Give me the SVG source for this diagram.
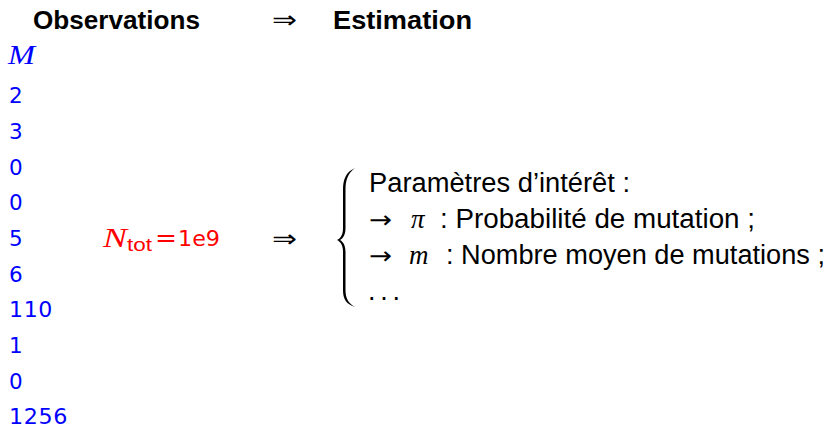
<svg xmlns="http://www.w3.org/2000/svg" width="832" height="428" viewBox="0 0 832 428">
<style>
.t{font-family:"Liberation Sans",Arial,sans-serif;fill:#000;font-size:27px}
.b{font-family:"Liberation Sans",Arial,sans-serif;font-weight:bold;font-size:25px;fill:#000}
.num{font-family:"DejaVu Sans","Liberation Sans",sans-serif;font-size:21.5px;fill:#0000ff;letter-spacing:0.6px}
.mi{font-family:"Liberation Serif","Times New Roman",serif;font-style:italic}
.ar{font-family:"DejaVu Sans",sans-serif;font-size:24px;fill:#000}
</style>
<rect width="832" height="428" fill="#fff"/>
<g id="header">
<text class="b" x="33" y="29" textLength="167" lengthAdjust="spacingAndGlyphs">Observations</text>
<text class="ar" x="272" y="28" textLength="25" lengthAdjust="spacingAndGlyphs">⇒</text>
<text class="b" x="333" y="29" textLength="139" lengthAdjust="spacingAndGlyphs">Estimation</text>
</g>
<g id="observations">
<text class="mi" x="8" y="64" font-size="27" fill="#0000ff" textLength="27" lengthAdjust="spacingAndGlyphs">M</text>
<text class="num" x="9" y="103">2</text>
<text class="num" x="9" y="139">3</text>
<text class="num" x="9" y="175">0</text>
<text class="num" x="9" y="210">0</text>
<text class="num" x="9" y="246">5</text>
<text class="num" x="9" y="282">6</text>
<text class="num" x="9" y="317" textLength="44" lengthAdjust="spacingAndGlyphs">110</text>
<text class="num" x="9" y="353">1</text>
<text class="num" x="9" y="389">0</text>
<text class="num" x="9" y="424" textLength="59" lengthAdjust="spacingAndGlyphs">1256</text>
</g>
<g id="ntot">
<text x="103" y="247" font-family="Liberation Serif,serif" font-style="italic" font-size="27" fill="#ff0000" textLength="24" lengthAdjust="spacingAndGlyphs">N</text>
<text x="127" y="251" font-family="Liberation Sans,sans-serif" font-size="18" fill="#ff0000" textLength="25" lengthAdjust="spacingAndGlyphs">tot</text>
<text x="155" y="246" font-family="DejaVu Sans,sans-serif" font-size="24" fill="#ff0000" textLength="22" lengthAdjust="spacingAndGlyphs">=</text>
<text x="178" y="246" font-family="DejaVu Sans,sans-serif" font-size="21.5" fill="#ff0000" textLength="42" lengthAdjust="spacingAndGlyphs">1e9</text>
</g>
<g id="connectors">
<text class="ar" x="272" y="247" textLength="25" lengthAdjust="spacingAndGlyphs">⇒</text>
</g>
<g id="estimation">
<path d="M355,168 C346,172 343,179 343,190 L343,228 C343,234 341,238 337,240 C341,242 343,246 343,252 L343,290 C343,299 346,304 355,307 C348,303 345.5,298 345.5,290 L345.5,252 C345.5,246 343.5,242 340,240 C343.5,238 345.5,234 345.5,228 L345.5,190 C345.5,180 348,173 355,168 Z" fill="#000"/>
<text class="t" x="369" y="192" textLength="261" lengthAdjust="spacingAndGlyphs">Paramètres d’intérêt :</text>
<text class="ar" x="369" y="228" textLength="23" lengthAdjust="spacingAndGlyphs">→</text>
<text class="mi" x="411" y="228" font-size="27">π</text>
<text class="t" x="440" y="228" textLength="315" lengthAdjust="spacingAndGlyphs">: Probabilité de mutation ;</text>
<text class="ar" x="369" y="264" textLength="23" lengthAdjust="spacingAndGlyphs">→</text>
<text class="mi" x="409" y="264" font-size="27">m</text>
<text class="t" x="446" y="264" textLength="379" lengthAdjust="spacingAndGlyphs">: Nombre moyen de mutations ;</text>
<text class="t" x="368" y="300" textLength="32" lengthAdjust="spacing">. . .</text>
</g>
</svg>
